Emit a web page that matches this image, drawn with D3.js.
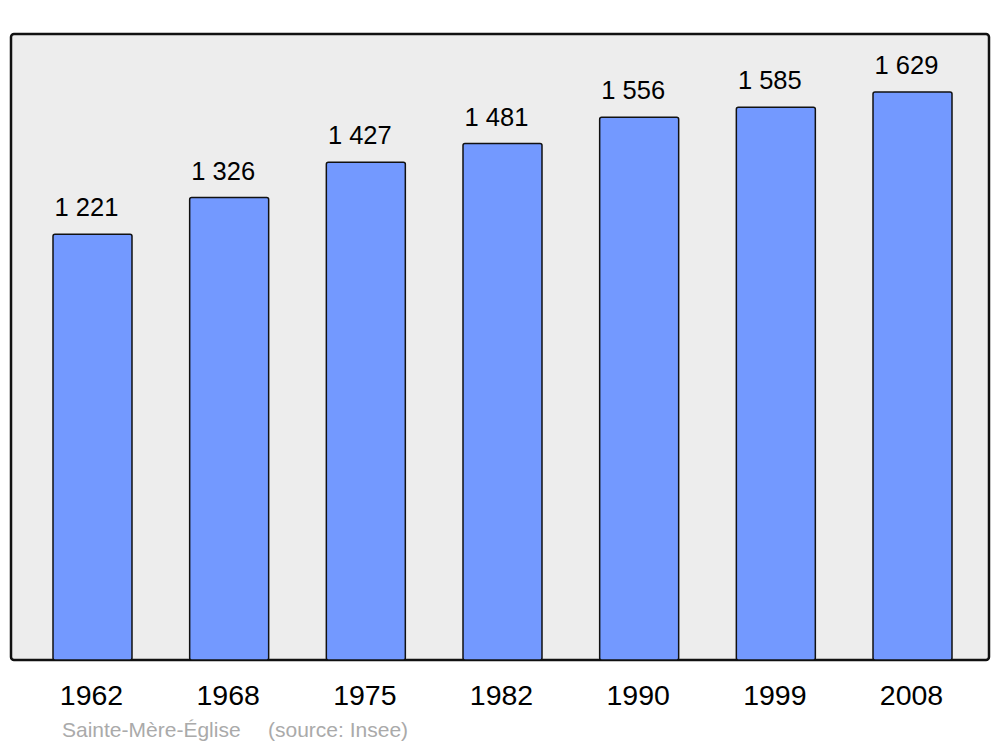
<!DOCTYPE html>
<html><head><meta charset="utf-8">
<script src="https://cdn.jsdelivr.net/npm/d3@7"></script>
<style>body{margin:0;background:#fff}svg{display:block}text{font-family:"Liberation Sans",Arial,sans-serif}</style>
</head><body>
<svg id="c" width="1000" height="747"></svg>
<script>
const years = ["1962","1968","1975","1982","1990","1999","2008"];
const population = [1221,1326,1427,1481,1556,1585,1629];
const labels = ["1 221","1 326","1 427","1 481","1 556","1 585","1 629"];
const title = "Sainte-Mère-Église";
const source = "(source: Insee)";

const svg = d3.select("#c");
const x = d3.scaleBand().domain(years).range([53, 952]).paddingInner(0.422).paddingOuter(0);
const y = d3.scaleLinear().domain([0, 1795]).range([660, 34]);

svg.append("rect").attr("x",11).attr("y",34).attr("width",978).attr("height",626)
  .attr("rx",3).attr("fill","#ededed").attr("stroke","#111").attr("stroke-width",2.5);

const g = svg.append("g");
g.selectAll("rect.bar").data(population).join("rect").attr("class","bar")
  .attr("x",(d,i)=>x(years[i])).attr("width",x.bandwidth())
  .attr("y",d=>y(d)).attr("height",d=>y(0)-y(d))
  .attr("rx",2).attr("fill","#7399ff").attr("stroke","#111").attr("stroke-width",1.5);

g.selectAll("text.val").data(population).join("text").attr("class","val")
  .attr("x",(d,i)=>x(years[i])+x.bandwidth()/2-6).attr("y",d=>y(d)-18)
  .attr("text-anchor","middle").attr("font-size",25.5).attr("fill","#000")
  .text((d,i)=>labels[i]);

const xa = d3.axisBottom(x).tickSize(0).tickPadding(0);
const ag = svg.append("g").attr("transform","translate(0,660)").call(xa);
ag.select(".domain").remove();
ag.selectAll("text").attr("font-size",28.5).attr("fill","#000").attr("dy",0).attr("y",45).attr("dx",-1)
  .attr("font-family","'Liberation Sans',Arial,sans-serif");

svg.append("text").attr("x",62).attr("y",737).attr("font-size",21).attr("fill","#aaa")
  .text(title).append("tspan").attr("x",268).text(source);
</script>
</body></html>
